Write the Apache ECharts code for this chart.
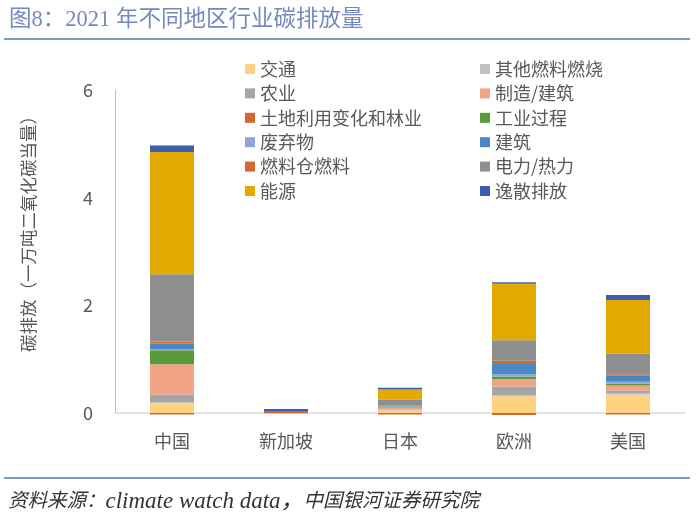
<!DOCTYPE html>
<html>
<head>
<meta charset="utf-8">
<script src="https://cdn.jsdelivr.net/npm/echarts@6/dist/echarts.min.js"></script>
<style>
  html, body { margin: 0; padding: 0; background: #fff; }
  #chart { width: 700px; height: 519px; }
</style>
</head>
<body>
<div id="chart"></div>
<script>
// 地区
var categories = ['中国', '新加坡', '日本', '欧洲', '美国'];

// 各行业排放
var transport     = [0.18, 0,     0.045, 0.31, 0.34];
var otherFuel     = [0.025, 0,    0.01,  0.02, 0.02];
var agriculture   = [0.14, 0,     0.01,  0.16, 0.06];
var manufacturing = [0.56, 0,     0.037, 0.14, 0.09];
var landUse       = [-0.03, -0.005, -0.03, -0.035, -0.03];
var industry      = [0.26, 0,     0.02,  0.05, 0.04];
var waste         = [0.025, 0,    0.005, 0.04, 0.03];
var buildings     = [0.10, 0,     0.01,  0.19, 0.11];
var bunker        = [0.037, 0.035, 0.005, 0.06, 0.03];
var electricity   = [1.25, 0,     0.105, 0.38, 0.38];
var energy        = [2.27, 0,     0.19,  1.05, 1.0];
var fugitive      = [0.12, 0.04,  0.03,  0.03, 0.09];

var yTicks = [0, 2, 4, 6];

var seriesDefs = [
  { name: '交通', data: transport, color: '#FFD280' },
  { name: '其他燃料燃烧', data: otherFuel, color: '#C0C0C0' },
  { name: '农业', data: agriculture, color: '#A5A5A5' },
  { name: '制造/建筑', data: manufacturing, color: '#F2A486' },
  { name: '土地利用变化和林业', data: landUse, color: '#D2692B' },
  { name: '工业过程', data: industry, color: '#5B9A3A' },
  { name: '废弃物', data: waste, color: '#8FA6DA' },
  { name: '建筑', data: buildings, color: '#4A87C5' },
  { name: '燃料仓燃料', data: bunker, color: '#D2692B' },
  { name: '电力/热力', data: electricity, color: '#8F8F8F' },
  { name: '能源', data: energy, color: '#E2AA00' },
  { name: '逸散排放', data: fugitive, color: '#3A5FB0' }
];

var cjk = "'Noto Sans CJK SC', sans-serif";
var serif = "'Liberation Serif', 'DejaVu Serif', 'Noto Sans CJK SC', serif";

var legendText = { color: '#595959', fontSize: 18, fontFamily: cjk, lineHeight: 18 };

var myChart = echarts.init(document.getElementById('chart'));

var option = {
  animation: false,
  backgroundColor: '#fff',
  title: [
    {
      text: '图8：2021 年不同地区行业碳排放量',
      left: 4, top: 4,
      textStyle: { color: '#7489BE', fontSize: 22.5, fontWeight: 'normal', fontFamily: serif }
    },
    {
      text: '{a|资料来源：}{b|climate watch data，}{a|中国银河证券研究院}',
      left: 3, top: 485,
      textStyle: {
        fontWeight: 'normal',
        rich: {
          a: { color: '#333', fontSize: 19.5, fontWeight: 'normal', fontStyle: 'italic', fontFamily: serif },
          b: { color: '#333', fontSize: 23, fontWeight: 'normal', fontStyle: 'italic', fontFamily: serif }
        }
      }
    }
  ],
  graphic: [
    { type: 'line', shape: { x1: 4, y1: 39, x2: 690, y2: 39 }, style: { stroke: '#7F96C8', lineWidth: 2 } },
    { type: 'line', shape: { x1: 4, y1: 478, x2: 690, y2: 478 }, style: { stroke: '#7F96C8', lineWidth: 2 } }
  ],
  legend: [
    {
      left: 240, top: 55, orient: 'vertical',
      icon: 'rect', itemWidth: 10, itemHeight: 10, itemGap: 6.4, itemTextGap: 8,
      textStyle: legendText,
      data: seriesDefs.filter(function (s, i) { return i % 2 === 0; }).map(function (s) { return s.name; })
    },
    {
      left: 475, top: 55, orient: 'vertical',
      icon: 'rect', itemWidth: 10, itemHeight: 10, itemGap: 6.4, itemTextGap: 6,
      textStyle: legendText,
      data: seriesDefs.filter(function (s, i) { return i % 2 === 1; }).map(function (s) { return s.name; })
    }
  ],
  grid: { left: 115, right: 15, top: 90, bottom: 106 },
  xAxis: {
    type: 'category',
    data: categories,
    axisLine: { lineStyle: { color: '#D9D9D9', width: 1.5 } },
    axisTick: { show: false },
    axisLabel: { color: '#595959', fontSize: 18, fontFamily: cjk, margin: 19 }
  },
  yAxis: {
    type: 'value',
    min: yTicks[0], max: yTicks[yTicks.length - 1], interval: 2,
    name: '碳排放（一万吨二氧化碳当量）',
    nameLocation: 'middle', nameRotate: 90, nameGap: 78,
    nameTextStyle: { color: '#595959', fontSize: 17.5, fontFamily: cjk, padding: [0, 0, 0, 44] },
    axisLine: { show: true, lineStyle: { color: '#BFBFBF' } },
    axisTick: { show: false },
    splitLine: { show: false },
    axisLabel: { color: '#595959', fontSize: 18, fontFamily: cjk, margin: 22 }
  },
  series: seriesDefs.map(function (s) {
    return {
      name: s.name,
      type: 'bar',
      stack: 'total',
      barWidth: 44,
      clip: false,
      data: s.data,
      itemStyle: { color: s.color }
    };
  })
};

myChart.setOption(option);
window.addEventListener('resize', function () {
  myChart.resize();
});
</script>
</body>
</html>
